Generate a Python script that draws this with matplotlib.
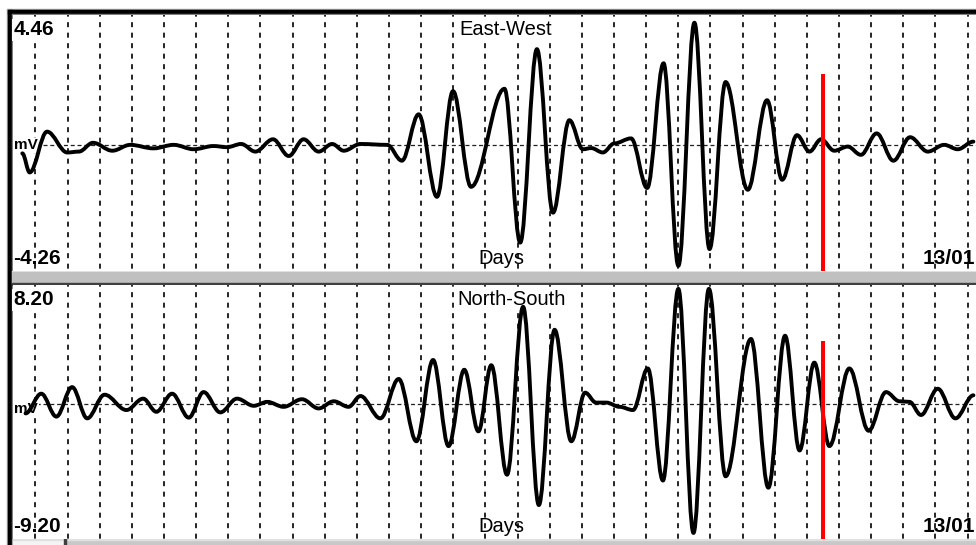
# -*- coding: utf-8 -*-
# two-channel recorder view (East-West / North-South), redrawn with matplotlib

import matplotlib
matplotlib.use("Agg")
import matplotlib.pyplot as plt
from matplotlib.path import Path
from matplotlib.patches import PathPatch, Rectangle

plt.rcParams['lines.scale_dashes'] = False
plt.rcParams['font.family'] = ['Liberation Sans', 'DejaVu Sans']
NARROW = ['Liberation Sans Narrow', 'Liberation Sans']

# =============================================================================
# data : time in grid divisions (one dashed line per division), values in mV
# =============================================================================
ew_t = [-0.41, -0.18, 0.36, 0.99, 1.35, 1.79, 2.39, 2.95, 3.67, 4.30,
        4.92, 5.54, 5.96, 6.40, 6.84, 7.39, 7.88, 8.34, 8.81, 9.23,
        9.59, 10.11, 10.94, 11.40, 11.92, 12.49, 12.99, 13.55, 14.59, 15.08,
        15.60, 16.10, 16.61, 17.03, 17.29, 17.65, 18.01, 18.53, 19.03, 19.54,
        20.00, 20.50, 20.97, 21.47, 22.16, 22.76, 23.23, 23.69, 24.08, 24.44,
        24.85, 25.27, 25.68, 26.17, 26.69, 27.21, 27.76, 28.27, 28.69, 29.18]
ew_mv = [-0.27, -0.92, 0.47, -0.24, -0.21, 0.09, -0.18, 0.02, -0.10, 0.02,
         -0.13, -0.02, -0.06, 0.05, -0.21, 0.21, -0.36, 0.21, -0.21, 0.05,
         -0.18, 0.05, 0.02, -0.52, 1.06, -1.75, 1.85, -1.41, 1.93, -3.31,
         3.28, -2.29, 0.86, -0.13, -0.09, -0.24, 0.07, 0.24, -1.45, 2.80,
         -4.10, 4.18, -3.53, 2.16, -1.51, 1.54, -1.17, 0.35, -0.21, 0.21,
         -0.18, -0.04, -0.32, 0.41, -0.52, 0.28, -0.21, 0.02, -0.13, 0.13]

ns_t = [-0.31, 0.18, 0.65, 1.14, 1.61, 2.15, 2.83, 3.35, 3.76, 4.25,
        4.77, 5.23, 5.75, 6.27, 6.79, 7.21, 7.72, 8.29, 8.81, 9.28,
        9.74, 10.11, 10.73, 11.30, 11.85, 12.37, 12.85, 13.34, 13.78, 14.18,
        14.67, 15.17, 15.66, 16.15, 16.67, 17.10, 17.44, 17.76, 18.17, 18.59,
        19.05, 19.52, 20.00, 20.47, 20.95, 21.47, 22.26, 22.80, 23.32, 23.77,
        24.23, 24.70, 25.32, 25.92, 26.46, 26.88, 27.19, 27.55, 28.07, 28.62,
        29.18]
ns_mv = [-0.63, 0.72, -0.85, 1.17, -0.97, 0.65, -0.40, 0.38, -0.52, 0.72,
         -0.92, 0.83, -0.56, 0.38, -0.11, 0.16, -0.18, 0.34, -0.29, 0.20,
         -0.18, 0.56, -0.97, 1.73, -2.54, 3.03, -2.87, 2.36, -1.86, 2.67,
         -4.83, 6.67, -6.91, 5.10, -2.54, 0.79, 0.11, 0.11, -0.18, -0.40,
         2.45, -5.23, 7.90, -8.82, 7.90, -4.94, 4.47, -5.72, 4.69, -3.17,
         2.85, -2.87, 2.45, -1.82, 0.83, 0.20, 0.16, -0.74, 1.06, -0.97,
         0.61]

ew_lim = (-4.26, 4.46)
ns_lim = (-9.20, 8.20)
ew_labels = ('4.46', '-4.26')
ns_labels = ('8.20', '-9.20')
marker_t = 24.51          # red cursor
ew_marker_top = 2.45
ns_marker_top = 4.31
grid_t = list(range(30))
t_range = (-0.715, 29.26)
date_label = '13/01'

# =============================================================================
# fonctions
# =============================================================================
W, H = 976, 545


def px_axes(fig, x0, y0, x1, y1):
    return fig.add_axes([x0 / W, 1 - y1 / H, (x1 - x0) / W, (y1 - y0) / H])


def smooth_path(t, v, k=0.36):
    verts = [(t[0], v[0])]
    codes = [Path.MOVETO]
    for i in range(len(t) - 1):
        d = (t[i + 1] - t[i]) * k
        verts += [(t[i] + d, v[i]), (t[i + 1] - d, v[i + 1]), (t[i + 1], v[i + 1])]
        codes += [Path.CURVE4] * 3
    return Path(verts, codes)


def panel(ax, t, v, lim, labels, title, title_x, marker_top, mv_y):
    ax.set_xlim(*t_range)
    ax.set_ylim(*lim)
    ax.set_facecolor('white')
    for s in ax.spines.values():
        s.set_visible(False)
    ax.set_xticks([])
    ax.set_yticks([])

    # labels under the grid
    ax.text(0.0005, 0.048, labels[1], transform=ax.transAxes, fontsize=15,
            family=NARROW, fontweight='bold', va='center', ha='left', zorder=1)
    ax.text(0.507, 0.048, 'Days', transform=ax.transAxes, fontsize=14.5,
            va='center', ha='center', zorder=1)
    ax.text(0.999, 0.048, date_label, transform=ax.transAxes, fontsize=15,
            family=NARROW, fontweight='bold', va='center', ha='right', zorder=1)

    for g in grid_t:
        ax.axvline(g, ymin=1, ymax=0, color='black', lw=1.2,
                   linestyle=(2.4, (3.6, 3.96)), zorder=2)
    ax.axhline(0, color='#202020', lw=0.9, linestyle=(2.9, (2.9, 2.0)), zorder=2)

    # labels over the grid
    box = dict(facecolor='white', edgecolor='none', pad=1.0)
    ax.text(0.001, 0.94, labels[0], transform=ax.transAxes, fontsize=15,
            family=NARROW, fontweight='bold', va='center', ha='left', zorder=3, bbox=box)
    ax.text(title_x, 0.94, title, transform=ax.transAxes, fontsize=14.5,
            va='center', ha='center', zorder=3, bbox=box)
    ax.text(0.002, mv_y, 'mV', transform=ax.transAxes, fontsize=11,
            family=NARROW, fontweight='bold', va='center', ha='left', zorder=3,
            bbox=dict(facecolor='white', edgecolor='none', pad=0.3))

    ax.add_patch(PathPatch(smooth_path(t, v), fill=False, edgecolor='black',
                           lw=2.8, joinstyle='round', capstyle='round', zorder=4))
    ax.vlines(marker_t, lim[0], marker_top, color='#ff0000', lw=2.9, zorder=5)


# =============================================================================
# figure
# =============================================================================
fig = plt.figure(figsize=(W / 100, H / 100), dpi=100)

bg = fig.add_axes([0, 0, 1, 1])
bg.set_xlim(0, W)
bg.set_ylim(H, 0)
bg.axis('off')
bg.add_patch(Rectangle((7, 8.5), W, 1.5, color='#a0a0a0'))
bg.add_patch(Rectangle((7, 8.5), 1, H, color='#a0a0a0'))
bg.add_patch(Rectangle((8, 10), 3.5, H, color='black'))
bg.add_patch(Rectangle((8, 10), W, 3.5, color='black'))
bg.add_patch(Rectangle((11.5, 13.5), W, 1, color='#808080'))
bg.add_patch(Rectangle((11.5, 13.5), 1, H, color='#808080'))
# separator between the two channels
bg.add_patch(Rectangle((11.5, 270.5), W, 1.2, color='#e8e8e8'))
bg.add_patch(Rectangle((11.5, 271.5), W, 11, color='#c0c0c0'))
bg.add_patch(Rectangle((11.5, 282.5), W, 2, color='#404040'))
# scrollbar at the bottom
bg.add_patch(Rectangle((12.5, 538.5), W, 7, color='#c8c8c8'))
bg.add_patch(Rectangle((12.5, 538.5), 52, 7, color='#f4f4f4'))
bg.add_patch(Rectangle((12.5, 538.5), W, 1, color='#e0e0e0'))
bg.add_patch(Rectangle((64, 537.5), 1.5, 8, color='#404040'))

ax1 = px_axes(fig, 12.5, 14.5, W, 270.5)
panel(ax1, ew_t, ew_mv, ew_lim, ew_labels, 'East-West', 0.512, ew_marker_top, 0.49)

ax2 = px_axes(fig, 12.5, 284.5, W, 538.5)
panel(ax2, ns_t, ns_mv, ns_lim, ns_labels, 'North-South', 0.518, ns_marker_top, 0.51)

fig.savefig('out.png', dpi=100)
